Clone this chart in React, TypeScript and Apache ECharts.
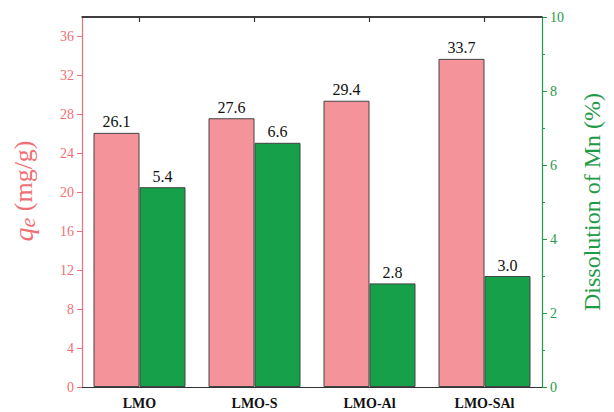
import React, { useEffect, useRef } from "react";
import * as echarts from "echarts";

const categories = ["LMO", "LMO-S", "LMO-Al", "LMO-SAl"];
const qeValues = [26.1, 27.6, 29.4, 33.7];
const mnValues = [5.4, 6.6, 2.8, 3.0];
const leftTicks = [0, 4, 8, 12, 16, 20, 24, 28, 32, 36];
const rightTicks = [0, 2, 4, 6, 8, 10];
const LEFT_MAX = 38;
const RIGHT_MAX = 10;

const PINK = "#F4939A";
const PINK_TEXT = "#EF6F74";
const GREEN = "#16A04A";
const GREEN_TEXT = "#1F9A47";
const FRAME = "#333";
const FONT = "Liberation Serif";

export default function App() {
  const ref = useRef<HTMLDivElement>(null);
  useEffect(() => {
    if (!ref.current) return;
    const chart = echarts.init(ref.current, undefined, { renderer: "svg" });
    chart.setOption({
      animation: false,
      textStyle: { fontFamily: FONT },
      grid: { left: 82, right: 72, top: 17, bottom: 25, outerBoundsMode: "none" },
      xAxis: [
        {
          type: "category",
          data: categories,
          position: "bottom",
          axisLine: { show: true, onZero: false, lineStyle: { color: FRAME, width: 1.2 } },
          axisTick: { alignWithLabel: true, length: 5, lineStyle: { color: FRAME } },
          axisLabel: { color: "#111", fontFamily: FONT, fontWeight: "bold", fontSize: 14, margin: 9 },
        },
        {
          type: "category",
          data: categories,
          position: "top",
          z: 50,
          axisLine: { show: true, onZero: false, lineStyle: { color: FRAME, width: 1.5 } },
          axisTick: { show: true, alignWithLabel: true, inside: true, length: 5, lineStyle: { color: FRAME, width: 1.2 } },
          axisLabel: { show: false },
        },
      ],
      yAxis: [
        {
          type: "value",
          min: 0,
          max: LEFT_MAX,
          interval: 4,
          position: "left",
          splitLine: { show: false },
          axisLine: { show: true, lineStyle: { color: PINK_TEXT, width: 1.2 } },
          axisTick: { show: true, length: 5, customValues: leftTicks, lineStyle: { color: PINK_TEXT } },
          axisLabel: { color: PINK_TEXT, fontSize: 14, fontFamily: FONT, margin: 8, customValues: leftTicks },
          name: "{q|q}{e|e}{n| (mg/g)}",
          nameLocation: "middle",
          nameGap: 44,
          nameRotate: 90,
          nameTextStyle: {
            color: PINK_TEXT,
            fontFamily: FONT,
            fontSize: 26,
            padding: [0, 0, 0, 22],
            rich: {
              q: { fontStyle: "italic", fontSize: 28, color: PINK_TEXT, fontFamily: FONT },
              e: { fontStyle: "italic", fontSize: 22, color: PINK_TEXT, fontFamily: FONT, padding: [8, 0, 0, 0] },
              n: { fontSize: 26, color: PINK_TEXT, fontFamily: FONT },
            },
          },
        },
        {
          type: "value",
          min: 0,
          max: RIGHT_MAX,
          interval: 2,
          position: "right",
          splitLine: { show: false },
          axisLine: { show: true, lineStyle: { color: GREEN_TEXT, width: 1.2 } },
          axisTick: { show: true, length: 5, lineStyle: { color: GREEN_TEXT } },
          minorTick: { show: true, splitNumber: 2, length: 3, lineStyle: { color: GREEN_TEXT } },
          axisLabel: { color: GREEN_TEXT, fontSize: 14, fontFamily: FONT, margin: 8, customValues: rightTicks },
          name: "Dissolution of Mn (%)",
          nameLocation: "middle",
          nameGap: 38,
          nameRotate: 90,
          nameTextStyle: { color: GREEN_TEXT, fontFamily: FONT, fontSize: 24 },
        },
      ],
      series: [
        {
          type: "bar",
          data: qeValues,
          xAxisIndex: 0,
          yAxisIndex: 0,
          barGap: "0%",
          barCategoryGap: "20%",
          itemStyle: { color: PINK, borderColor: "#444", borderWidth: 1 },
          label: { show: true, position: "top", color: "#111", fontSize: 16, fontFamily: FONT, distance: 3, formatter: (p: any) => p.value.toFixed(1) },
          markLine: {
            silent: true,
            symbol: "none",
            label: { show: false },
            lineStyle: { color: FRAME, width: 1.5, type: "solid" },
            data: [{ yAxis: LEFT_MAX }],
          },
        },
        {
          type: "bar",
          data: mnValues,
          xAxisIndex: 0,
          yAxisIndex: 1,
          barGap: "0%",
          barCategoryGap: "20%",
          itemStyle: { color: GREEN, borderColor: "#444", borderWidth: 1 },
          label: { show: true, position: "top", color: "#111", fontSize: 16, fontFamily: FONT, distance: 3, formatter: (p: any) => p.value.toFixed(1) },
        },
      ],
    });
    return () => chart.dispose();
  }, []);
  return <div ref={ref} style={{ width: 614, height: 412, position: "absolute", left: 0, top: 0 }} />;
}
